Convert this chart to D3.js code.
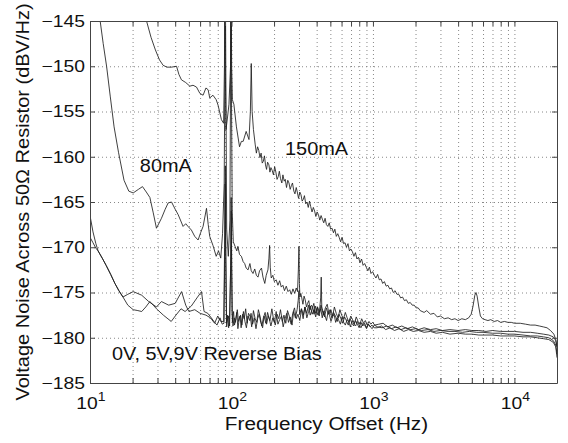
<!DOCTYPE html>
<html>
<head>
<meta charset="utf-8">
<script src="https://cdn.jsdelivr.net/npm/d3@7"></script>
<style>
  body { margin: 0; background: #fff; }
  svg text { font-family: "Liberation Sans", Arial, sans-serif; fill: #111; }
</style>
</head>
<body>
<div id="chart"></div>
<script>
// Tick values
const yTicks = [-185, -180, -175, -170, -165, -160, -155, -150, -145];
const xMajor = [10, 100, 1000, 10000];
const xMinor = [20, 30, 40, 50, 60, 70, 80, 90, 200, 300, 400, 500, 600, 700, 800, 900,
  2000, 3000, 4000, 5000, 6000, 7000, 8000, 9000];
const xDecadeLabels = ["1", "2", "3", "4"];

// Series: [frequency (Hz), noise (dBV/Hz)]
const ma80 = [
  [11.3, -142], [11.8, -145], [12.4, -147.5], [13.1, -150], [13.9, -153.3], [14.8, -156.7], [15.9, -159.5],
  [17.4, -162.6], [18.8, -163.8], [20.2, -164], [22, -163.6], [23.5, -163.3], [25, -163.9], [26.5, -164.5],
  [28, -166.2], [29.5, -167.9], [32, -166.8], [34, -165.8], [35.7, -165.1], [37.7, -165], [40, -165.8],
  [42, -166.4], [45.5, -167.7], [47.5, -167.4], [49.3, -167.7], [52.1, -168.1], [55, -168.8], [58.1, -169.2],
  [60.5, -168.4], [63, -167.7], [66.6, -165.7], [68.5, -167.5], [70.2, -168.8], [74, -169.8], [78, -171],
  [81, -170.4], [84, -171.2], [86.5, -168.5], [88.8, -163], [89.9, -150], [90.5, -140], [91.2, -150],
  [92.5, -168], [95, -171], [97.5, -167], [98.6, -150], [99.2, -140], [99.9, -152], [101.2, -166],
  [103, -169.4], [106, -169.9], [109, -170.4], [111, -169.9], [114, -170.8], [117.5, -171], [121, -171.6],
  [124, -171.8], [127, -172.3], [131, -172.5], [135, -171.8], [138, -172.6], [142, -172.9], [146, -172.4],
  [150, -173.1], [154, -173.3], [158, -172.6], [163, -172.3], [167, -173.3], [172, -174], [176, -173.1],
  [181, -172.5], [184, -171.2], [186, -169.8], [188, -172.2], [191, -173.4], [196, -173.1], [201, -173.8],
  [207, -173.6], [213, -174.2], [219, -173.7], [225, -174.4], [231, -174.2], [237, -174.8], [244, -174.3],
  [251, -174.9], [258, -174.7], [265, -175.2], [272, -174.6], [280, -175.1], [287, -174.5], [293, -174.9],
  [297, -172.5], [300, -169.9], [302, -174], [305, -175.5], [309, -175.1], [314, -175.6], [320, -176.3],
  [326, -175.4], [332, -175.8], [339, -176.6], [345, -176.2], [352, -175.9], [360, -176.9], [367, -176.4],
  [375, -176.6], [383, -177.4], [391, -176.5], [400, -177.0], [409, -177.5], [418, -177.2], [428, -176.8],
  [438, -177.8], [448, -177.1], [459, -177.6], [470, -178.1], [481, -177.2], [493, -177.5], [505, -178.2],
  [518, -177.7], [531, -177.4], [545, -178.3], [559, -177.8], [574, -178.1], [589, -178.5], [605, -177.7],
  [621, -178.3], [638, -178.6], [656, -178.0], [674, -178.2], [693, -178.8], [713, -178.1], [733, -178.5],
  [754, -178.7], [776, -178.2], [799, -178.6], [823, -178.9], [848, -178.4], [874, -178.6], [901, -179.0],
  [929, -178.5], [958, -178.8], [988, -179.0], [1020, -178.6], [1080, -178.8], [1160, -178.9],
  [1250, -178.7], [1350, -179], [1460, -178.8], [1580, -179.1], [1710, -178.9], [1850, -179.1],
  [2000, -179.0], [2200, -179.2], [2450, -179.1], [2700, -179.3], [3000, -179.2], [3400, -179.3],
  [3800, -179.3], [4300, -179.4], [4800, -179.3], [5400, -179.4], [6000, -179.4], [7000, -179.5],
  [8000, -179.5], [9000, -179.6], [10000, -179.6], [11500, -179.7], [13000, -179.8], [14500, -179.8],
  [16000, -179.9], [17500, -180.0], [18800, -180.3], [19600, -180.8], [20000, -181.8]
];

const ma150 = [
  [24, -143.5], [25.1, -145], [27, -146.8], [29, -148.2], [31, -149.3], [32.9, -149.9], [35, -150.1],
  [37.7, -150.1], [40.9, -150.0], [42.5, -150.9], [44.3, -151.5], [47.5, -151.8], [50.8, -152.2],
  [53.5, -152.1], [56.6, -152.3], [59.8, -153], [63, -153.2], [66, -152.4], [68.4, -152.6], [70.2, -153.5],
  [74, -153.2], [78, -153.7], [80.4, -154.3], [84.9, -155.9], [88, -156.3], [89.2, -150], [89.8, -140],
  [90.4, -150], [91.5, -157], [94, -155.5], [96, -154.2], [98.5, -150], [99.4, -140], [100.3, -150],
  [101.5, -153.7], [104, -154.2], [108.4, -156.7], [114, -158.9], [117.5, -158.3], [121, -158.3],
  [127, -157.2], [133, -158.1], [136, -155], [138, -149.7], [140, -155], [143, -157], [147, -158.6],
  [150, -159.6], [153, -158.9], [156, -159.3], [159, -160.1], [162, -159.6], [165, -160.7], [168, -160.5],
  [171, -159.9], [174, -160.9], [177, -161.4], [180, -160.6], [184, -160.9], [187, -161.7], [190, -161.2],
  [194, -161.5], [198, -162.0], [202, -161.1], [206, -161.7], [210, -162.5], [214, -162.2], [218, -161.6],
  [222, -162.4], [227, -162.9], [231, -162.0], [236, -162.7], [240, -162.5], [245, -163.4], [250, -162.6],
  [255, -162.9], [260, -163.6], [265, -163.2], [270, -162.9], [276, -163.8], [281, -164.1], [287, -163.4],
  [292, -163.9], [298, -164.6], [304, -163.9], [310, -164.2], [316, -164.9], [322, -164.7], [328, -164.3],
  [335, -165.2], [342, -165.0], [349, -165.6], [356, -164.9], [363, -165.5], [371, -166.1], [379, -165.6],
  [387, -166.0], [395, -166.6], [403, -166.1], [412, -166.4], [421, -167.0], [430, -166.5], [439, -166.9],
  [449, -167.3], [459, -166.8], [469, -167.5], [480, -167.7], [491, -167.3], [502, -168.0], [514, -167.9],
  [526, -168.4], [538, -168.0], [551, -168.8], [564, -168.5], [577, -168.9], [591, -169.4], [605, -168.9],
  [620, -169.6], [635, -169.5], [650, -170.0], [666, -169.6], [682, -170.4], [699, -170.2], [716, -170.5],
  [734, -171.0], [752, -170.6], [771, -171.3], [790, -171.1], [810, -171.7], [831, -171.3], [852, -172.0],
  [874, -171.8], [897, -172.2], [920, -172.6], [944, -172.2], [969, -172.9], [995, -172.7], [1022, -173.1],
  [1050, -173.4], [1079, -173.0], [1109, -173.6], [1140, -173.5], [1172, -174.0], [1205, -173.8],
  [1240, -174.3], [1276, -174.2], [1313, -174.6], [1352, -174.5], [1392, -175.0], [1434, -174.8],
  [1478, -175.2], [1523, -175.2], [1570, -175.6], [1619, -175.5], [1670, -175.9], [1723, -175.8],
  [1778, -176.2], [1835, -176.1], [1895, -176.4], [1957, -176.4], [2021, -176.7], [2088, -176.7],
  [2158, -177.0], [2300, -177.2], [2400, -177], [2550, -177.4], [2700, -177.3], [2850, -177.7],
  [3000, -177.6], [3200, -177.9], [3400, -177.8], [3600, -178], [3800, -177.9], [4000, -178.1],
  [4250, -177.9], [4500, -178], [4750, -177.8], [4950, -177.4], [5100, -176.5], [5250, -175.3],
  [5350, -175], [5450, -175.4], [5600, -176.6], [5750, -177.6], [5950, -177.9], [6200, -178], [6500, -178.1],
  [6800, -178], [7200, -178.2], [7600, -178.1], [8000, -178.3], [8500, -178.2], [9000, -178.3],
  [9500, -178.3], [10000, -178.4], [11000, -178.4], [12000, -178.5], [13000, -178.6], [14000, -178.6],
  [15000, -178.7], [16000, -178.8], [17000, -178.9], [18000, -179.2], [19000, -179.6], [19600, -180.2],
  [20000, -181]
];

const rb1 = [
  [10, -166.5], [10.5, -168.3], [11, -169.6], [11.4, -170.4], [12.2, -171.2], [13, -172], [14, -173],
  [15, -174], [16, -174.8], [17.1, -175.5], [18.5, -176.4], [20.2, -176.9], [21.8, -177], [23.2, -177.1],
  [24.8, -176.6], [26.5, -176], [28, -176.4], [29.5, -176.8], [33, -177.5], [37.5, -178.2], [40.5, -177.5],
  [44, -176.8], [47, -177.1], [52, -176.5], [57, -175.6], [61.4, -174.9], [64, -177.1], [68, -177.3],
  [72, -177.8], [76, -178.3], [79, -178.6], [83, -177.8], [86, -178.5], [88.5, -178.4], [89.8, -170],
  [90.5, -161], [91.2, -170], [92.5, -178.8], [94, -177.5], [95.5, -178.9], [97, -177.8], [98.8, -172],
  [99.5, -164.5], [100.2, -172], [101.5, -178.3], [103.5, -177.1], [105, -178.6], [107.5, -177.9],
  [110, -176.9], [112, -178.2], [115, -177.6], [117, -178.9], [120, -177.4], [123, -177.9], [126, -176.8],
  [129, -178.4], [132, -177.3], [136, -177.7], [139, -178.8], [143, -177.0], [147, -177.9], [151, -178.3],
  [155, -176.9], [159, -177.6], [164, -178.7], [168, -177.8], [173, -177.2], [177, -178.5], [182, -177.6],
  [187, -178.1], [193, -176.8], [198, -177.9], [204, -178.6], [210, -177.4], [216, -177.9], [222, -176.9],
  [229, -178.2], [235, -177.5], [242, -178.4], [249, -177.0], [256, -177.6], [264, -178.5], [271, -177.3],
  [279, -176.7], [287, -177.9], [295, -177.4], [304, -178.1], [313, -176.8], [322, -177.5], [331, -176.6],
  [341, -177.8], [351, -177.1], [361, -176.5], [372, -177.4], [383, -176.9], [394, -177.7], [406, -176.6],
  [418, -177.2], [427, -175.6], [431, -173.3], [435, -176.8], [448, -177.5], [461, -176.7], [475, -176.3],
  [489, -177.4], [504, -176.9], [519, -177.6], [534, -176.6], [550, -177.3], [567, -177.8], [584, -176.9],
  [601, -177.5], [619, -177.9], [638, -177.2], [657, -177.8], [677, -178.3], [697, -177.6], [718, -178.0],
  [740, -178.4], [762, -177.7], [785, -178.2], [808, -178.5], [833, -177.9], [858, -178.4], [884, -178.1],
  [910, -178.6], [938, -178.2], [966, -178.5], [995, -178.3], [1030, -178.6], [1100, -178.5],
  [1180, -178.4], [1270, -178.8], [1370, -178.6], [1480, -178.9], [1600, -178.7], [1750, -179],
  [1900, -178.8], [2100, -179.1], [2300, -178.9], [2550, -179.1], [2800, -179], [3100, -179.2],
  [3500, -179.1], [4000, -179.2], [4500, -179.1], [5000, -179.2], [5600, -179.2], [6300, -179.3],
  [7000, -179.2], [8000, -179.3], [9000, -179.3], [10000, -179.3], [11500, -179.4], [13000, -179.4],
  [14500, -179.5], [16000, -179.6], [17500, -179.7], [18800, -179.9], [19600, -180.3], [20000, -181]
];

const rb2 = [
  [10, -168.9], [10.5, -169.5], [11, -170.1], [11.4, -170.4], [12.2, -171.2], [13, -172], [14, -173],
  [15, -174], [16, -174.8], [17.1, -175.5], [18.5, -175.2], [20.2, -174.9], [23.2, -175.3], [26, -176],
  [29.5, -176.6], [32, -176], [36, -176.4], [40, -176.2], [44.4, -174.9], [47.5, -176.4], [50, -177.1],
  [55, -176.9], [60, -177.3], [66, -177.5], [71, -177.8], [76, -178.4], [80, -177.6], [84, -178.2],
  [88.2, -178.2], [89.4, -170], [90.2, -163], [91, -171], [92.2, -178.4], [95, -177.6], [97, -178.7],
  [98.9, -171], [99.7, -166], [100.4, -172], [101, -177.1], [102.5, -178.7], [104.5, -177.8],
  [106.5, -178.3], [109, -177.2], [111, -179.0], [113.5, -177.9], [116, -177.5], [118.5, -178.6],
  [121.5, -177.1], [124.5, -178.2], [127.5, -178.9], [131, -177.6], [134.5, -178.1], [137.5, -177.3],
  [141, -178.5], [145, -177.8], [149, -179.0], [153, -177.9], [157, -177.4], [161, -178.3], [166, -178.9],
  [170, -177.6], [175, -178.4], [180, -177.2], [185, -177.9], [190, -178.7], [196, -177.8], [201, -178.3],
  [207, -177.1], [213, -178.5], [219, -178.0], [226, -177.6], [232, -178.8], [239, -177.9], [246, -177.3],
  [253, -178.3], [260, -177.7], [268, -178.6], [275, -177.1], [283, -177.8], [291, -176.9], [296, -175.9],
  [300, -174.8], [303, -177.4], [312, -176.8], [321, -177.9], [330, -176.6], [340, -177.3], [350, -176.4],
  [360, -177.5], [371, -176.9], [382, -176.2], [393, -177.3], [405, -176.6], [417, -177.6], [429, -176.4],
  [442, -177.0], [455, -177.7], [469, -176.7], [483, -177.4], [497, -176.9], [512, -177.8], [527, -177.2],
  [543, -177.6], [560, -178.2], [576, -177.4], [594, -177.9], [612, -178.4], [630, -177.7], [649, -178.1],
  [669, -178.6], [689, -177.9], [710, -178.4], [731, -178.7], [753, -178.1], [776, -178.5], [799, -178.9],
  [823, -178.3], [848, -178.7], [874, -178.4], [900, -178.9], [928, -178.5], [956, -178.8], [985, -178.6],
  [1020, -178.9], [1070, -178.9], [1150, -178.7], [1230, -179.1], [1320, -178.9], [1420, -179.2],
  [1530, -179], [1650, -179.3], [1780, -179.1], [1930, -179.3], [2100, -179.2], [2300, -179.4],
  [2550, -179.3], [2800, -179.5], [3100, -179.4], [3500, -179.6], [4000, -179.5], [4500, -179.6],
  [5000, -179.6], [5600, -179.7], [6300, -179.7], [7000, -179.7], [8000, -179.8], [9000, -179.8],
  [10000, -179.8], [11500, -179.9], [13000, -179.9], [14500, -180], [16000, -180.1], [17500, -180.2],
  [18800, -180.5], [19600, -181], [20000, -182.2]
];

const series = [ma80, ma150, rb1, rb2];

const annotations = [
  { text: "80mA", f: 22.5, v: -161.7 },
  { text: "150mA", f: 239, v: -159.8 },
  { text: "0V, 5V,9V Reverse Bias", f: 14.3, v: -182.5 }
];

// Layout
const margin = { top: 21, right: 11, bottom: 60, left: 90 };
const width = 568 - margin.left - margin.right;
const height = 443 - margin.top - margin.bottom;

const svg = d3.select("#chart")
  .append("svg")
  .attr("width", 568)
  .attr("height", 443);

const g = svg.append("g")
  .attr("transform", `translate(${margin.left},${margin.top})`);

const x = d3.scaleLog().domain([10, 20000]).range([0, width]);
const y = d3.scaleLinear().domain([-185, -145]).range([height, 0]);

// Text in the source is a little wider than Arial, stretch it horizontally
function stretch(sel, k) {
  sel.each(function() {
    const len = this.getComputedTextLength();
    d3.select(this)
      .attr("textLength", len * k)
      .attr("lengthAdjust", "spacingAndGlyphs");
  });
}

// Grid lines (dotted)
const gridX = xMajor.concat(xMinor).filter(d => d > 10 && d < 20000);
const gridY = yTicks.filter(d => d > -185 && d < -145);

g.append("g")
  .attr("class", "grid")
  .attr("transform", `translate(0,${height})`)
  .call(d3.axisBottom(x).tickValues(gridX).tickSize(-height).tickFormat(""))
  .call(s => s.select(".domain").remove());

g.append("g")
  .attr("class", "grid")
  .call(d3.axisLeft(y).tickValues(gridY).tickSize(-width).tickFormat(""))
  .call(s => s.select(".domain").remove());

g.selectAll(".grid line")
  .attr("stroke", "#6a6a6a")
  .attr("stroke-width", 0.8)
  .attr("stroke-dasharray", "1,3");

// Curves
g.append("clipPath").attr("id", "clip")
  .append("rect").attr("width", width).attr("height", height);

const line = d3.line()
  .x(d => x(d[0]))
  .y(d => y(d[1]));

g.append("g")
  .attr("clip-path", "url(#clip)")
  .selectAll("path")
  .data(series)
  .join("path")
  .attr("d", line)
  .attr("fill", "none")
  .attr("stroke", "#1e1e1e")
  .attr("stroke-width", 0.85)
  .attr("stroke-linejoin", "round");

// Axes box with inward ticks
const allX = xMajor.concat(xMinor);
const axisStyle = s => {
  s.selectAll("line").attr("stroke", "#444");
  s.select(".domain").attr("stroke", "#444");
};

g.append("g")
  .attr("transform", `translate(0,${height})`)
  .call(d3.axisBottom(x).tickValues(allX).tickSizeInner(-5).tickSizeOuter(0).tickFormat(""))
  .call(axisStyle);

g.append("g")
  .call(d3.axisTop(x).tickValues(allX).tickSizeInner(-5).tickSizeOuter(0).tickFormat(""))
  .call(axisStyle);

g.append("g")
  .call(d3.axisLeft(y).tickValues(yTicks).tickSizeInner(-5).tickSizeOuter(0).tickPadding(5))
  .call(axisStyle)
  .call(s => s.selectAll("text")
    .attr("font-size", 16.5)
    .attr("font-family", "'Liberation Sans', Arial, sans-serif")
    .attr("fill", "#111")
    .call(stretch, 1.17));

g.append("g")
  .attr("transform", `translate(${width},0)`)
  .call(d3.axisRight(y).tickValues(yTicks).tickSizeInner(-5).tickSizeOuter(0).tickFormat(""))
  .call(axisStyle);

// Decade labels 10^n
const xl = g.append("g").attr("transform", `translate(0,${height})`);
xMajor.forEach((d, i) => {
  const t = xl.append("text")
    .attr("transform", `translate(${x(d) + 1},25.5) scale(1.17,1)`)
    .attr("text-anchor", "middle")
    .attr("font-size", 16.5);
  t.append("tspan").text("10");
  t.append("tspan").attr("font-size", 12).attr("dy", -8).text(xDecadeLabels[i]);
});

// Axis titles
svg.append("text")
  .attr("x", margin.left + width / 2 + 3)
  .attr("y", 430)
  .attr("text-anchor", "middle")
  .attr("font-size", 18)
  .text("Frequency Offset (Hz)")
  .call(stretch, 1.15);

svg.append("text")
  .attr("transform", `translate(29,${margin.top + height / 2}) rotate(-90)`)
  .attr("text-anchor", "middle")
  .attr("font-size", 18.6)
  .text("Voltage Noise Across 50\u03A9 Resistor (dBV/Hz)")
  .call(stretch, 1.075);

// Curve annotations
g.selectAll(".note")
  .data(annotations)
  .join("text")
  .attr("class", "note")
  .attr("x", d => x(d.f))
  .attr("y", d => y(d.v))
  .attr("font-size", 18.6)
  .text(d => d.text)
  .call(stretch, 1.07);
</script>
</body>
</html>
